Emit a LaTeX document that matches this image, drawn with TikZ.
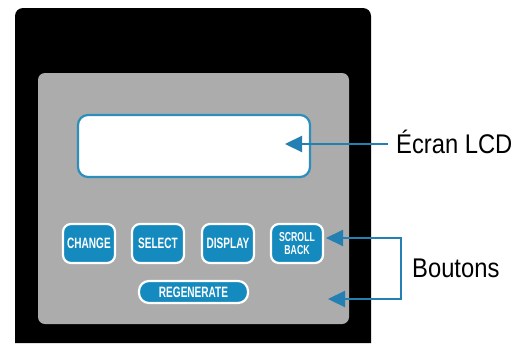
\documentclass[tikz,border=0pt]{standalone}
\usepackage{fontspec}
\setmainfont{Liberation Sans}
\newfontfamily\labelfont[FakeStretch=0.88]{Liberation Sans}
\newfontfamily\keyfont[FakeStretch=0.67]{Liberation Sans}
\usetikzlibrary{arrows.meta, positioning}

\definecolor{panelgrey}{RGB}{172,172,172}
\definecolor{keyblue}{RGB}{20,138,190}
\definecolor{lcdblue}{RGB}{44,142,186}
\definecolor{pointerblue}{RGB}{36,128,178}

\tikzset{
  key/.style={rectangle, rounded corners=8pt, draw=white, line width=2.2pt, fill=keyblue,
    text=white, font=\keyfont\bfseries\fontsize{15}{12.5}\selectfont, align=center,
    minimum width=52pt, minimum height=39pt, inner sep=0pt},
  pointer/.style={pointerblue, line width=2.2pt, -{Triangle[length=17pt,width=16pt]}},
  callout/.style={font=\labelfont\fontsize{27}{28}\selectfont, inner sep=0pt}
}

\begin{document}
\begin{tikzpicture}[x=1pt, y=-1pt]
\useasboundingbox (0,0) rectangle (522,343);

% housing and face plate
\fill[black] (15,343) [rounded corners=8pt] -- (15,8) -- (371,8) [sharp corners] -- (371,343) -- cycle;
\fill[panelgrey, rounded corners=7pt] (38,73) rectangle (349,324);

% display window
\node[draw=lcdblue, line width=2.2pt, fill=white, rounded corners=10pt,
      minimum width=232pt, minimum height=62pt] (lcd) at (194,146) {};

% keys
\node[key] (change) at (89,243.5) {CHANGE};
\node[key] (select) at (158,243.5) {SELECT};
\node[key] (display) at (228,243.5) {DISPLAY};
\node[key, font=\keyfont\bfseries\fontsize{13}{13.5}\selectfont] (scroll) at (297,243.5) {SCROLL\\BACK};
\node[key, minimum width=109pt, minimum height=22pt, rounded corners=10pt] (regen) at (193.5,292) {REGENERATE};

% callouts
\node[callout, anchor=base west] (lcdlabel) at (396,153) {Écran LCD};
\node[callout, anchor=base west] (keylabel) at (412,277) {Boutons};

\coordinate (lcdtip) at (285,144);
\draw[pointer] ([xshift=-8pt]lcdlabel.west |- lcdtip) -- (lcdtip);

\coordinate (keytop) at (326,238);
\coordinate (keybottom) at (328,299);
\coordinate (bend) at (401,268);
\draw[pointer] (bend) |- (keytop);
\draw[pointer] (bend) |- (keybottom);

\end{tikzpicture}
\end{document}
